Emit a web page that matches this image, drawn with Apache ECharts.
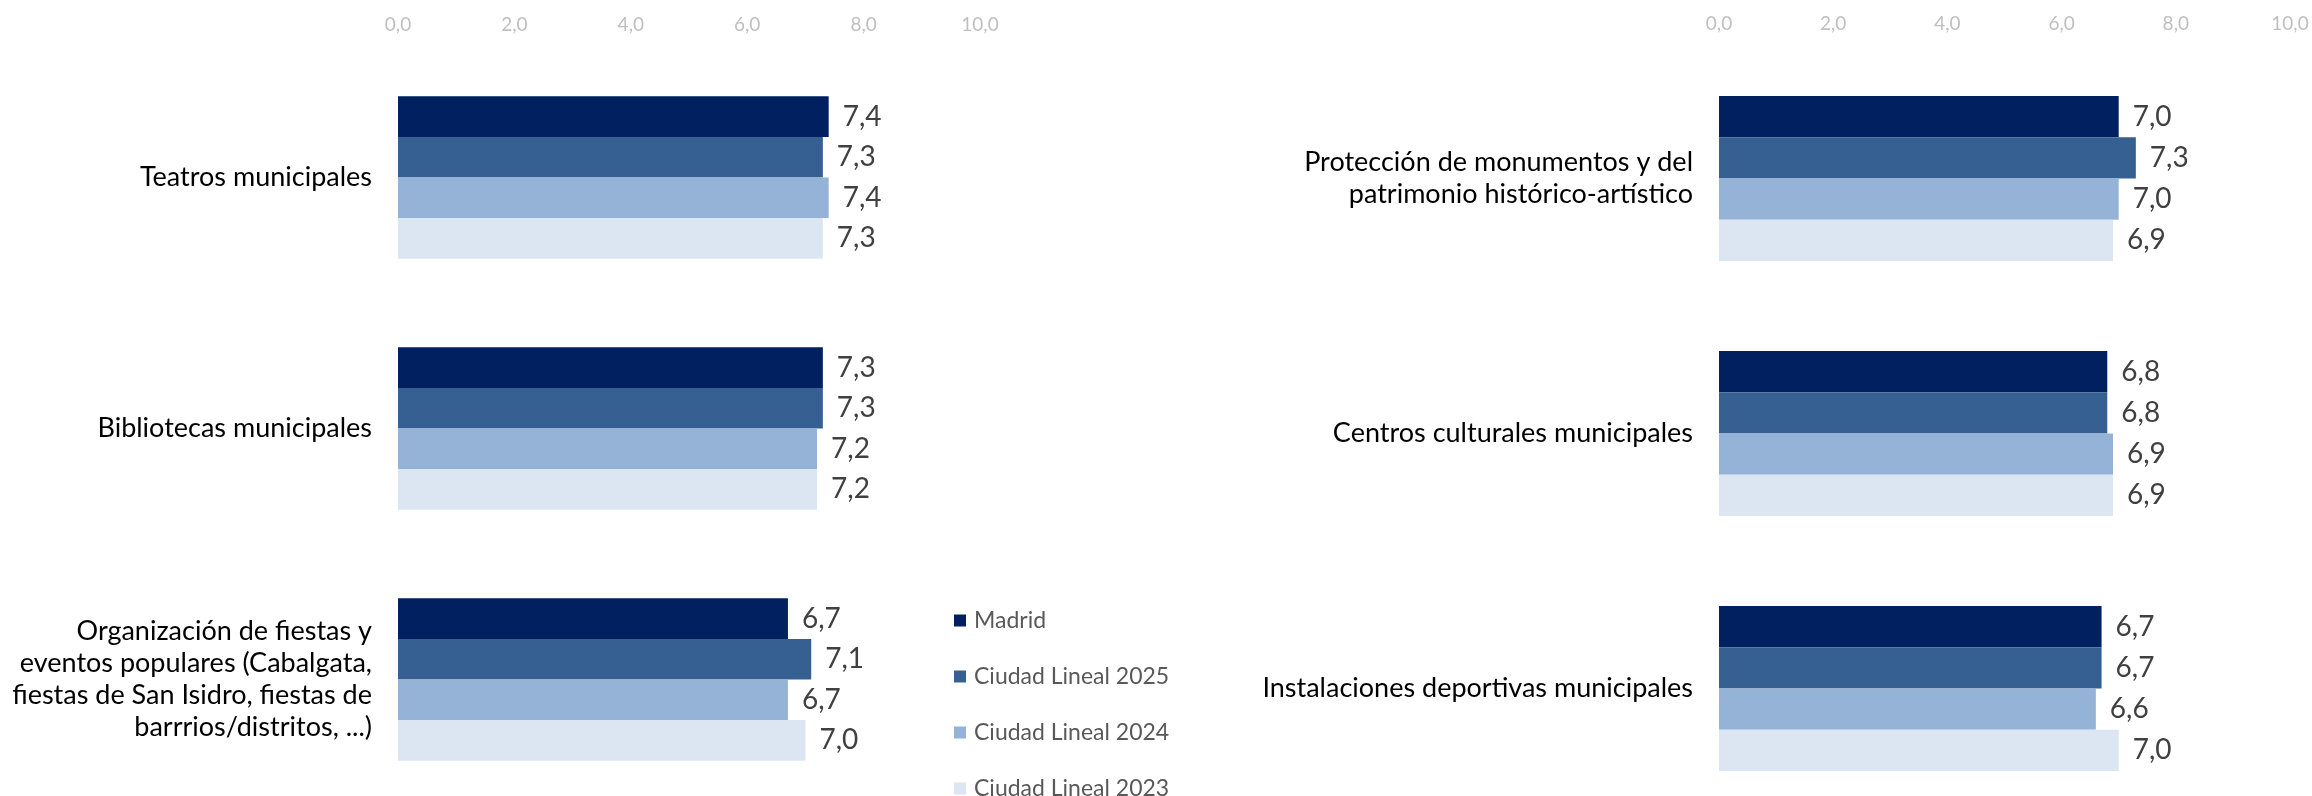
<!DOCTYPE html>
<html><head><meta charset="utf-8">
<script src="https://cdn.jsdelivr.net/npm/echarts@6/dist/echarts.min.js"></script>
<style>html,body{margin:0;padding:0;background:#fff}#c{width:2312px;height:796px}</style>
</head><body><div id="c"></div>
<script>
const seriesNames = ['Madrid', 'Ciudad Lineal 2025', 'Ciudad Lineal 2024', 'Ciudad Lineal 2023'];
const colors = ['#002060', '#366092', '#95B3D7', '#DCE6F2'];
const leftCategories = ['Teatros municipales', 'Bibliotecas municipales',
  'Organización de fiestas y\neventos populares (Cabalgata,\nfiestas de San Isidro, fiestas de\nbarrrios/distritos, ...)'];
const rightCategories = ['Protección de monumentos y del\npatrimonio histórico-artístico',
  'Centros culturales municipales', 'Instalaciones deportivas municipales'];
const leftMadrid = [7.4, 7.3, 6.7];
const left2025 = [7.3, 7.3, 7.1];
const left2024 = [7.4, 7.2, 6.7];
const left2023 = [7.3, 7.2, 7.0];
const rightMadrid = [7.0, 6.8, 6.7];
const right2025 = [7.3, 6.8, 6.7];
const right2024 = [7.0, 6.9, 6.6];
const right2023 = [6.9, 6.9, 7.0];
const xTicks = [0, 2, 4, 6, 8, 10];

const leftData = [leftMadrid, left2025, left2024, left2023];
const rightData = [rightMadrid, right2025, right2024, right2023];
const FONT = 'Lato';
const fmt = v => Number(v).toFixed(1).replace('.', ',');

function xAxis(idx) {
  return {
    gridIndex: idx, type: 'value', position: 'top', min: xTicks[0], max: xTicks[xTicks.length - 1], interval: 2,
    axisLine: {show: false}, axisTick: {show: false}, splitLine: {show: false},
    axisLabel: {formatter: fmt, color: '#bfbfbf', fontSize: 19, fontFamily: FONT, margin: 18}
  };
}
function yAxis(idx, cats) {
  return {
    gridIndex: idx, type: 'category', inverse: true, data: cats,
    axisLine: {show: false}, axisTick: {show: false}, splitLine: {show: false},
    axisLabel: {color: '#000000', fontSize: 27, fontFamily: FONT, margin: 26, lineHeight: 32, align: 'right'}
  };
}
function mkSeries(idx, data) {
  return data.map((d, i) => ({
    name: seriesNames[i], type: 'bar', xAxisIndex: idx, yAxisIndex: idx, data: d,
    barGap: 0, barCategoryGap: '35.3%',
    itemStyle: {color: colors[i]},
    label: {show: true, position: 'right', distance: 14, formatter: p => fmt(p.value),
      color: '#404040', fontSize: 28, fontFamily: FONT},
    emphasis: {disabled: true}
  }));
}

const legends = seriesNames.map((n, i) => ({
  data: [n], orient: 'vertical', left: 954, top: 609 + i * 56, padding: 0,
  itemWidth: 12, itemHeight: 12, icon: 'rect',
  textStyle: {color: '#595959', fontSize: 23, fontFamily: FONT, lineHeight: 20, padding: [0, 0, 0, 3]}
}));

const chart = echarts.init(document.getElementById('c'));
chart.setOption({
  animation: false,
  backgroundColor: '#ffffff',
  grid: [
    {left: 398, width: 582, top: 52, height: 753, outerBoundsMode: 'none', containLabel: false},
    {left: 1719, width: 571, top: 51, height: 765, outerBoundsMode: 'none', containLabel: false}
  ],
  xAxis: [xAxis(0), xAxis(1)],
  yAxis: [yAxis(0, leftCategories), yAxis(1, rightCategories)],
  legend: legends,
  series: [...mkSeries(0, leftData), ...mkSeries(1, rightData)]
});
</script></body></html>
